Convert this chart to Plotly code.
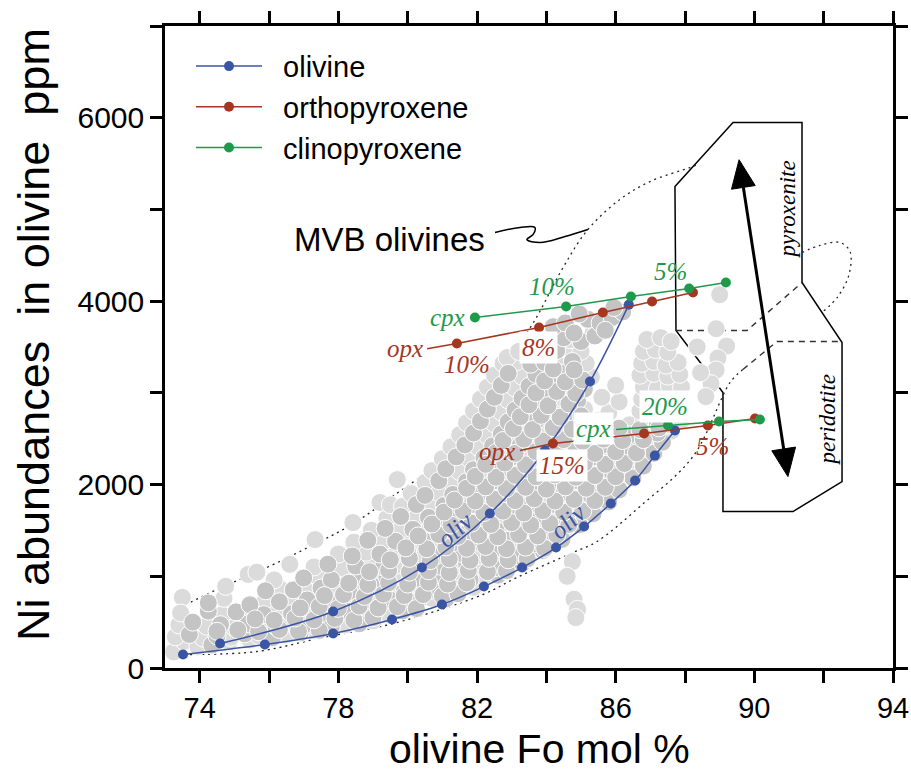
import math
import plotly.graph_objects as go

# ---------------- data ----------------
# MVB olivine analyses (Fo mol %, Ni ppm); two shades of grey
mvb_light = [
    (73.25,175),(73.55,290),(73.95,235),(74.85,285),(75.45,305),
    (73.3,340),(74.1,325),(74.9,335),(75.7,350),(76.5,365),(77.3,405),
    (73.4,470),(74.2,455),(75.0,440),(75.8,465),(76.6,490),(77.4,480),(78.2,470),(79.0,515),
    (73.5,770),(73.45,600),(74.65,580),(75.45,600),(76.25,612),(77.05,622),(77.85,598),(78.65,590),(79.45,583),
    (74.7,760),(75.9,742),(76.7,705),(77.5,722),(78.3,745),(79.1,702),(79.9,712),(80.7,760),
    (74.75,890),(76.3,868),(77.1,832),(77.9,852),(78.7,862),(79.5,848),(80.3,872),(81.1,835),(81.9,880),
    (75.4,1020),(75.65,1045),(76.15,960),(77.4,1000),(78.2,992),(79.0,972),(79.8,1012),(80.6,992),(81.4,982),(82.2,1002),
    (76.6,1130),(77.3,1102),(78.1,1092),(78.9,1142),(79.7,1122),(80.5,1132),(81.3,1092),(82.1,1112),(82.9,1132),
    (77.33,1400),(78.0,1242),(78.8,1262),(79.6,1222),(80.4,1242),(81.2,1262),(82.0,1222),(82.8,1242),(83.55,1262),
    (78.45,1372),(79.25,1362),(80.05,1352),(80.85,1372),(81.65,1392),(82.45,1352),(83.25,1372),(84.05,1392),
    (78.42,1586),(78.95,1502),(79.75,1492),(80.55,1482),(81.35,1502),(82.15,1522),(82.95,1482),(83.75,1502),(84.55,1522),
    (79.4,1632),(80.2,1622),(81.0,1612),(81.8,1632),(82.6,1652),(83.4,1612),(84.2,1632),(85.0,1652),
    (79.2,1805),(79.5,1780),(79.85,1762),(80.65,1752),(81.45,1742),(82.25,1762),(83.05,1782),(83.85,1742),(84.65,1762),(85.45,1782),
    (80.1,1902),(80.9,1912),(81.7,1872),(82.5,1892),(83.3,1912),(84.1,1872),(84.9,1892),(85.7,1912),
    (79.7,2054),(80.5,2022),(81.3,2012),(82.1,2002),(82.9,2022),(83.7,2042),(84.5,2002),(85.3,2022),(86.1,2042),
    (80.7,2152),(81.5,2142),(82.3,2132),(83.1,2152),(83.9,2172),(84.7,2132),(85.5,2152),(86.3,2172),
    (81.16,2327),(81.0,2282),(81.8,2272),(82.6,2262),(83.4,2282),(84.2,2302),(85.0,2262),(85.8,2282),(86.6,2302),
    (81.45,2490),(81.25,2412),(82.05,2402),(82.85,2392),(83.65,2412),(84.45,2432),(85.25,2392),(86.05,2412),(86.85,2432),
    (81.5,2542),(82.3,2532),(83.1,2522),(83.9,2542),(84.7,2562),(85.1,2542),(85.5,2522),(86.0,2562),(86.8,2522),(87.6,2582),
    (81.7,2672),(82.5,2662),(83.3,2652),(84.1,2672),(84.9,2692),(85.5,2702),(86.4,2652),(86.8,2692),(87.6,2652),(87.9,2702),
    (81.9,2802),(82.7,2792),(83.5,2782),(84.3,2802),(85.1,2822),(85.8,2782),(86.7,2802),(87.1,2822),(87.5,2792),(87.85,2812),
    (82.1,2932),(82.9,2922),(83.7,2912),(84.5,2932),(85.6,2952),(86.1,2902),(86.75,2932),(87.1,2952),(87.45,2922),(87.85,2942),
    (82.3,3062),(83.1,3052),(83.9,3042),(84.7,3062),(86.0,3082),(86.8,3062),(87.2,3042),(87.55,3082),(87.9,3062),
    (82.5,3192),(83.3,3182),(84.1,3172),(84.9,3192),(85.3,3172),(86.7,3192),(87.1,3212),(87.5,3182),(87.85,3202),
    (82.75,3322),(83.15,3342),(84.35,3302),(85.15,3322),(86.75,3322),(87.1,3342),(87.45,3302),(87.8,3332),
    (82.87,3385),(83.2,3452),(83.6,3472),(84.0,3442),(84.68,3482),(85.0,3452),(86.8,3452),(87.15,3472),(87.5,3442),
    (84.68,3580),(85.35,3660),(86.9,3582),(87.3,3602),(87.6,3560),
    (89.0,4070),(88.9,3700),(89.2,3510),(88.35,3500),(88.95,3380),(88.9,3250),(88.75,3100),(88.45,3220),(88.6,2960),
    (84.75,1160),(84.6,1000),(84.8,750),(84.9,640),(84.85,550),
]
mvb_dark = [
    (74.35,250),
    (73.7,365),(74.5,350),(75.3,372),(76.1,330),(76.9,382),
    (73.8,500),(74.6,472),(75.4,482),(76.2,452),(77.0,462),(77.8,452),(78.6,482),
    (74.25,620),(74.25,710),(75.05,612),(75.85,582),(76.65,592),(77.45,582),(78.25,622),(79.05,612),(79.85,622),
    (75.45,690),(76.3,722),(77.1,742),(77.9,702),(78.7,722),(79.5,742),(80.3,732),(81.1,752),
    (75.9,842),(76.7,852),(77.5,872),(78.3,832),(79.1,882),(79.9,832),(80.7,852),(81.5,862),
    (77.0,982),(77.8,962),(78.6,1012),(79.4,992),(80.2,972),(81.0,1012),(81.8,962),(82.6,1012),
    (77.7,1132),(78.5,1112),(79.3,1102),(80.1,1092),(80.9,1112),(81.7,1132),(82.5,1092),(83.3,1142),
    (78.4,1222),(79.2,1242),(80.0,1262),(80.8,1222),(81.6,1242),(82.4,1262),(83.2,1222),(83.9,1282),
    (78.85,1392),(79.65,1382),(80.45,1392),(81.25,1352),(82.05,1372),(82.85,1392),(83.65,1352),(84.45,1402),
    (79.35,1522),(80.15,1512),(80.95,1522),(81.75,1482),(82.55,1502),(83.35,1522),(84.15,1482),(84.95,1562),
    (79.8,1652),(80.6,1642),(81.4,1652),(82.2,1612),(83.0,1632),(83.8,1652),(84.6,1612),(85.35,1682),
    (80.25,1782),(81.05,1772),(81.85,1782),(82.65,1742),(83.45,1762),(84.25,1782),(85.05,1742),(85.8,1812),
    (80.5,1882),(81.3,1892),(82.1,1912),(82.9,1872),(83.7,1892),(84.5,1912),(85.3,1872),(86.1,1942),
    (80.9,2042),(81.7,2032),(82.5,2042),(83.3,2002),(84.1,2022),(84.9,2042),(85.7,2002),(86.5,2072),
    (81.1,2172),(81.9,2162),(82.7,2172),(83.5,2132),(84.3,2152),(85.1,2172),(85.9,2132),(86.8,2202),
    (81.4,2302),(82.2,2292),(83.0,2302),(83.8,2262),(84.6,2282),(85.4,2302),(86.2,2262),(87.1,2342),
    (81.65,2432),(82.45,2422),(83.25,2432),(84.05,2392),(84.85,2412),(85.65,2432),(86.45,2392),(87.35,2462),
    (81.9,2562),(82.7,2552),(83.5,2562),(84.3,2522),(86.4,2542),(87.2,2562),
    (82.1,2692),(82.9,2682),(83.7,2692),(84.5,2652),(87.2,2672),
    (82.3,2822),(83.1,2812),(83.9,2822),(84.7,2782),
    (82.5,2952),(83.3,2942),(84.1,2952),(84.9,2912),
    (82.7,3082),(83.5,3072),(84.3,3082),(85.1,3042),
    (82.9,3212),(83.7,3202),(84.5,3212),
    (83.55,3312),(83.95,3332),(84.75,3342),
    (84.3,3462),(84.5,3600),(85.0,3560),(85.4,3620),
    (84.2,3722),(84.55,3762),(85.2,3802),(85.55,3762),(85.9,3822),(86.2,3882),
    (84.8,3652),(85.7,3682),(85.95,3930),(84.95,3860),
]
# core analyses between the two olivine paths (drawn last)
mvb_core = [
    (74.5,400),(75.1,415),(75.7,395),(76.3,420),(76.85,400),(77.45,410),
    (75.6,535),(76.15,520),(76.75,545),(77.3,525),(77.9,540),(78.45,520),(79.0,548),
    (76.9,655),(77.45,670),(78.0,650),(78.6,675),(79.15,655),(79.7,668),(80.25,648),
    (77.6,790),(78.15,800),(78.75,780),(79.3,805),(79.9,790),(80.45,800),(81.0,785),(81.45,810),
    (78.3,925),(78.85,910),(79.45,930),(80.0,915),(80.6,935),(81.15,915),(81.7,928),
    (78.9,1050),(79.45,1065),(80.05,1045),(80.6,1060),(81.2,1040),(81.75,1065),(82.3,1050),(82.85,1060),
    (79.5,1180),(80.05,1195),(80.65,1170),(81.2,1190),(81.8,1175),(82.35,1195),(82.9,1180),(83.45,1190),
    (79.95,1310),(80.55,1300),(81.1,1320),(81.7,1305),(82.25,1325),(82.85,1300),(83.4,1318),(83.95,1305),
    (80.3,1440),(80.9,1455),(81.45,1435),(82.05,1450),(82.6,1430),(83.2,1455),(83.75,1440),(84.3,1450),
    (80.7,1570),(81.25,1560),(81.85,1580),(82.4,1565),(83.0,1585),(83.55,1560),(84.1,1578),(84.65,1565),
    (81.05,1700),(81.6,1715),(82.2,1695),(82.75,1710),(83.35,1690),(83.9,1715),(84.5,1700),(85.05,1710),
    (81.35,1830),(81.95,1820),(82.5,1840),(83.1,1825),(83.65,1845),(84.25,1820),(84.8,1838),(85.4,1825),
    (81.7,1960),(82.25,1975),(82.85,1955),(83.4,1970),(84.0,1950),(84.55,1975),(85.15,1960),(85.7,1970),
    (81.95,2090),(82.55,2080),(83.1,2100),(83.7,2085),(84.25,2105),(84.85,2080),(85.4,2098),(86.0,2085),
    (82.25,2220),(82.8,2235),(83.4,2215),(83.95,2230),(84.55,2210),(85.1,2235),(85.7,2220),(86.25,2230),
    (82.55,2350),(83.1,2340),(83.7,2360),(84.25,2345),(84.85,2365),(85.4,2340),(86.0,2358),(86.6,2345),
    (82.75,2480),(83.35,2495),(83.9,2475),(84.5,2490),(85.05,2470),(85.65,2495),(86.2,2480),(86.8,2490),
    (83.05,2610),(83.6,2600),(84.2,2620),(84.75,2605),(86.1,2615),(86.7,2600),(87.25,2618),
    (83.25,2740),(83.85,2755),(84.4,2735),(85.0,2750),
    (83.5,2870),(84.05,2860),(84.65,2880),
    (83.7,3000),(84.3,3015),(84.85,2995),
    (83.95,3130),(84.55,3120),(85.05,3140),
    (84.2,3260),(84.8,3250),
]

# olivine fractionation paths
oliv_hi_fo = [74.59, 77.85, 80.41, 82.37, 83.96, 85.26, 86.38]
oliv_hi_ni = [267, 616, 1095, 1684, 2371, 3123, 3962]
oliv_lo_fo = [73.52, 75.88, 77.85, 79.55, 80.99, 82.20, 83.30, 84.28, 85.09, 85.86, 86.56, 87.13, 87.71]
oliv_lo_ni = [147, 256, 376, 529, 692, 888, 1095, 1313, 1542, 1793, 2044, 2316, 2589]

# orthopyroxene / clinopyroxene addition paths
opx_hi_fo = [81.42, 83.79, 85.63, 87.05, 88.23]
opx_hi_ni = [3538, 3713, 3876, 3996, 4094]
cpx_hi_fo = [81.94, 84.57, 86.44, 88.12, 89.18]
cpx_hi_ni = [3822, 3942, 4051, 4138, 4203]
opx_lo_fo = [84.19, 86.82, 88.66, 90.02]
opx_lo_ni = [2448, 2557, 2644, 2720]
cpx_lo_fo = [87.51, 88.98, 90.16]
cpx_lo_ni = [2644, 2687, 2709]

# leader segments from path labels to the first point
opx_hi_lead = ([80.56, 81.42], [3482, 3538])
opx_lo_lead = ([83.24, 84.19], [2371, 2448])
cpx_lo_lead = ([86.01, 87.51], [2600, 2644])

# MVB olivine field outline (dotted)
env_a_fo = [73.43, 74.50, 75.94, 77.18, 78.39, 79.72, 80.73, 81.45, 82.0, 82.375, 82.95, 83.73, 84.45, 85.20, 86.12, 86.99, 88.14, 88.35]
env_a_ni = [660, 856, 1096, 1325, 1565, 1913, 2186, 2437, 2677, 2982, 3363, 3832, 4345, 4781, 5108, 5304, 5457, 5490]
env_b_fo = [91.375, 91.89, 92.47, 92.76, 92.73, 92.41, 91.95]
env_b_ni = [4530, 4607, 4640, 4541, 4290, 4050, 3876]
env_c_fo = [73.72, 75.65, 77.56, 79.58, 82.17, 83.15, 84.77, 85.46, 86.70, 88.23, 89.30, 89.67]
env_c_ni = [147, 180, 333, 485, 801, 987, 1259, 1379, 1761, 2306, 3113, 3255]

# pyroxenite / peridotite source field and its inner boundaries
field_fo = [87.71, 89.385, 91.375, 91.375, 92.53, 92.53, 91.115, 89.095, 89.095, 87.74]
field_ni = [5250, 5948, 5948, 4203, 3549, 2033, 1706, 1706, 3004, 3680]
sep1_fo = [87.74, 89.79, 91.375]
sep1_ni = [3680, 3680, 4203]
sep2_fo = [89.67, 90.65, 92.53]
sep2_ni = [3255, 3560, 3560]

# double arrow between the two source types
arrow_fo = [89.56, 90.97]
arrow_ni = [5542, 2087]

# label connector for the MVB field
mvb_lead_fo = [82.52, 83.24, 83.67, 83.62, 83.44, 83.82, 84.54, 85.20]
mvb_lead_ni = [4748, 4803, 4803, 4727, 4672, 4639, 4705, 4781]

x_ticks = [74, 76, 78, 80, 82, 84, 86, 88, 90, 92, 94]
x_labels = ["74", "", "78", "", "82", "", "86", "", "90", "", "94"]
y_ticks = [0, 1000, 2000, 3000, 4000, 5000, 6000, 7000]
y_labels = ["0", "", "2000", "", "4000", "", "6000", ""]

# ---------------- styling ----------------
BLUE = "#3b55a5"
RED = "#a5361f"
GREEN = "#1e9a4b"
LIGHT = "#dbdbdc"
DARK = "#c4c4c5"
SERIF = "Liberation Serif, Times New Roman, serif"
SANS = "Liberation Sans, Arial, Helvetica, sans-serif"

W, H = 911, 774
ML, MR, MT, MB = 165, 18, 26, 106
XR = (73, 94)
YR = (0, 7000)
px_x = (W - ML - MR) / (XR[1] - XR[0])
px_y = (H - MT - MB) / (YR[1] - YR[0])

fig = go.Figure()

# field outline
env_line = dict(color="#222", width=1.3, dash="2px,4px", shape="spline")
for fx, fy in ((env_a_fo, env_a_ni), (env_b_fo, env_b_ni), (env_c_fo, env_c_ni)):
    fig.add_trace(go.Scatter(x=fx, y=fy, mode="lines", showlegend=False, hoverinfo="skip", line=env_line))

# MVB olivine analyses
for pts, col in ((mvb_light, LIGHT), (mvb_dark, DARK), (mvb_core, DARK)):
    fig.add_trace(go.Scatter(
        x=[p[0] for p in pts], y=[p[1] for p in pts], mode="markers",
        showlegend=False, hoverinfo="skip",
        marker=dict(size=18, color=col, line=dict(color="white", width=1))))

# connector from the "MVB olivines" label
fig.add_trace(go.Scatter(x=mvb_lead_fo, y=mvb_lead_ni, mode="lines", showlegend=False, hoverinfo="skip",
                         line=dict(color="black", width=1.5, shape="spline", smoothing=1.1)))

# leader segments
for (lx, ly), col in ((opx_hi_lead, RED), (opx_lo_lead, RED), (cpx_lo_lead, GREEN)):
    fig.add_trace(go.Scatter(x=lx, y=ly, mode="lines", showlegend=False, hoverinfo="skip",
                             line=dict(color=col, width=1.5)))

PAD = "\u00a0\u00a0"
mk = dict(size=10)
fig.add_trace(go.Scatter(x=oliv_hi_fo, y=oliv_hi_ni, name=PAD + "olivine", mode="lines+markers",
                         line=dict(color=BLUE, width=1.5, shape="spline"), marker=dict(color=BLUE, **mk)))
fig.add_trace(go.Scatter(x=oliv_lo_fo, y=oliv_lo_ni, mode="lines+markers", showlegend=False,
                         line=dict(color=BLUE, width=1.5, shape="spline"), marker=dict(color=BLUE, **mk)))
fig.add_trace(go.Scatter(x=opx_hi_fo, y=opx_hi_ni, name=PAD + "orthopyroxene", mode="lines+markers",
                         line=dict(color=RED, width=1.5), marker=dict(color=RED, **mk)))
fig.add_trace(go.Scatter(x=opx_lo_fo, y=opx_lo_ni, mode="lines+markers", showlegend=False,
                         line=dict(color=RED, width=1.5), marker=dict(color=RED, **mk)))
fig.add_trace(go.Scatter(x=cpx_hi_fo, y=cpx_hi_ni, name=PAD + "clinopyroxene", mode="lines+markers",
                         line=dict(color=GREEN, width=1.5), marker=dict(color=GREEN, **mk)))
fig.add_trace(go.Scatter(x=cpx_lo_fo, y=cpx_lo_ni, mode="lines+markers", showlegend=False,
                         line=dict(color=GREEN, width=1.5), marker=dict(color=GREEN, **mk)))

# ---------------- shapes ----------------
def path_of(xs, ys, close=False):
    s = "M " + " L ".join(f"{x},{y}" for x, y in zip(xs, ys))
    return s + (" Z" if close else "")

shapes = [
    dict(type="path", path=path_of(field_fo, field_ni, close=True), xref="x", yref="y",
         line=dict(color="black", width=1.5), layer="below"),
    dict(type="path", path=path_of(sep1_fo, sep1_ni), xref="x", yref="y",
         line=dict(color="#333", width=1.4, dash="6px,5px"), layer="below"),
    dict(type="path", path=path_of(sep2_fo, sep2_ni), xref="x", yref="y",
         line=dict(color="#333", width=1.4, dash="6px,5px"), layer="below"),
]

# double-headed arrow drawn in pixel proportions
ax0, ax1 = arrow_fo
ay0, ay1 = arrow_ni
dxp = (ax1 - ax0) * px_x
dyp = (ay1 - ay0) * px_y
L = math.hypot(dxp, dyp)
ux, uy = dxp / L, dyp / L
head_len, head_half = 28, 12

def to_data(fx, fy, ox, oy):
    return fx + ox / px_x, fy + oy / px_y

def head(tx, ty, dirx, diry):
    bx, by = to_data(tx, ty, dirx * head_len, diry * head_len)
    p1 = to_data(bx, by, -diry * head_half, dirx * head_half)
    p2 = to_data(bx, by, diry * head_half, -dirx * head_half)
    return f"M {tx},{ty} L {p1[0]},{p1[1]} L {p2[0]},{p2[1]} Z", (bx, by)

top_path, top_base = head(ax0, ay0, ux, uy)
bot_path, bot_base = head(ax1, ay1, -ux, -uy)
shapes.append(dict(type="line", xref="x", yref="y", x0=top_base[0], y0=top_base[1],
                   x1=bot_base[0], y1=bot_base[1], line=dict(color="black", width=3)))
for p in (top_path, bot_path):
    shapes.append(dict(type="path", path=p, xref="x", yref="y", fillcolor="black",
                       line=dict(color="black", width=1)))

# ---------------- text ----------------
def lab(x, y, text, color, size=25, xanchor="center", bg=None, angle=0, italic=True, family=SERIF):
    t = f"<i>{text}</i>" if italic else text
    d = dict(x=x, y=y, xref="x", yref="y", text=t, showarrow=False, xanchor=xanchor,
             yanchor="middle", textangle=angle, font=dict(family=family, size=size, color=color))
    if bg:
        d.update(bgcolor=bg, borderpad=2)
    return d

annotations = [
    lab(81.70, 3822, "cpx", GREEN, xanchor="right"),
    lab(80.50, 3482, "opx", RED, xanchor="right"),
    lab(81.71, 3307, "10%", RED),
    lab(83.76, 3493, "8%", RED, bg="white"),
    lab(84.16, 4160, "10%", GREEN),
    lab(87.57, 4324, "5%", GREEN),
    lab(83.15, 2362, "opx", RED, xanchor="right"),
    lab(84.45, 2207, "15%", RED, bg="white"),
    lab(85.95, 2610, "cpx", GREEN, xanchor="right", bg="white"),
    lab(87.42, 2850, "20%", GREEN, bg="white"),
    lab(88.78, 2414, "5%", RED),
    lab(81.37, 1510, "oliv", BLUE, angle=-42),
    lab(84.62, 1597, "oliv", BLUE, angle=-42),
    lab(90.97, 4998, "pyroxenite", "black", size=23, angle=-90),
    lab(92.12, 2709, "peridotite", "black", size=23, angle=-90),
    lab(79.49, 4670, "MVB olivines", "black", size=33, italic=False, family=SANS),
    # axis titles
    dict(x=(539 - ML) / (W - ML - MR), y=-(774 - (H - MB)) / (H - MT - MB), xref="paper", yref="paper",
         text="olivine Fo mol %", showarrow=False, xanchor="center", yanchor="bottom",
         font=dict(family=SANS, size=41, color="black")),
    dict(x=(33 - ML) / (W - ML - MR), y=((H - MB) - 335) / (H - MT - MB), xref="paper", yref="paper",
         text="Ni abundances\u00a0\u00a0in olivine\u00a0\u00a0ppm", showarrow=False, textangle=-90,
         xanchor="center", yanchor="middle", font=dict(family=SANS, size=45, color="black")),
]

axis_common = dict(showline=True, linewidth=2.5, linecolor="black", mirror="allticks",
                   ticks="outside", ticklen=12, tickwidth=2.5, tickcolor="black",
                   showgrid=False, zeroline=False, automargin=False)

fig.update_layout(
    width=W, height=H,
    margin=dict(l=ML, r=MR, t=MT, b=MB),
    paper_bgcolor="white", plot_bgcolor="white",
    xaxis=dict(range=list(XR), tickmode="array", tickvals=x_ticks, ticktext=x_labels,
               tickfont=dict(family=SANS, size=29, color="black"), **axis_common),
    yaxis=dict(range=list(YR), tickmode="array", tickvals=y_ticks, ticktext=y_labels,
               tickfont=dict(family=SANS, size=30, color="black"), **axis_common),
    legend=dict(x=0.0357, y=0.977, xanchor="left", yanchor="top", bgcolor="rgba(0,0,0,0)",
                font=dict(family=SANS, size=29, color="black"), itemwidth=66, tracegroupgap=0),
    shapes=shapes,
    annotations=annotations,
)

fig.write_html("out.html")
